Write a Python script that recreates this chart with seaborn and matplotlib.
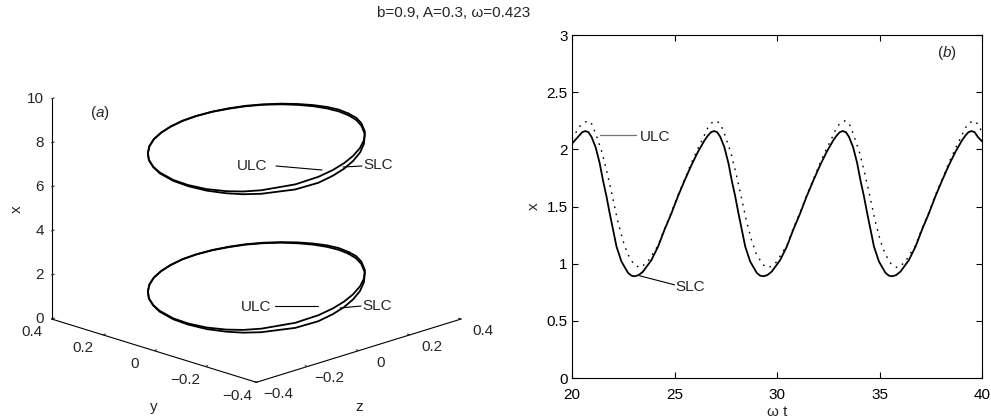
import numpy as np
import pandas as pd
import matplotlib
matplotlib.use("Agg")
import matplotlib.pyplot as plt
from matplotlib.lines import Line2D
import seaborn as sns

# ---------------- data ----------------
title = "b=0.9, A=0.3, \u03c9=0.423"

# panel (b): x versus omega*t
slc_t = [20.00, 20.20, 20.35, 20.50,
         20.65, 20.80, 20.95, 21.15, 21.35, 21.51, 21.68, 21.84, 22.00, 22.17, 22.41, 22.73, 22.90, 23.06,
         23.25, 23.46, 23.87, 24.20, 24.52, 24.85, 25.17, 25.50, 25.82, 26.15, 26.47, 26.63, 26.78,
         26.93, 27.08, 27.23, 27.43, 27.63, 27.79, 27.96, 28.12, 28.28, 28.45, 28.69, 29.01, 29.18, 29.34,
         29.53, 29.74, 30.15, 30.48, 30.80, 31.13, 31.45, 31.78, 32.10, 32.43, 32.75, 32.91, 33.06,
         33.21, 33.36, 33.51, 33.71, 33.91, 34.07, 34.24, 34.40, 34.56, 34.73, 34.97, 35.29, 35.46, 35.62,
         35.81, 36.02, 36.43, 36.76, 37.08, 37.41, 37.73, 38.06, 38.38, 38.71, 39.03, 39.19, 39.34,
         39.49, 39.64, 39.79, 40.00]
slc_x = [2.05, 2.09, 2.12, 2.15,
         2.16, 2.15, 2.11, 2.02, 1.88, 1.73, 1.59, 1.44, 1.30, 1.15, 1.02, 0.92, 0.895, 0.89,
         0.90, 0.93, 1.03, 1.15, 1.30, 1.44, 1.59, 1.73, 1.86, 1.98, 2.08, 2.12, 2.15,
         2.16, 2.15, 2.11, 2.02, 1.88, 1.73, 1.59, 1.44, 1.30, 1.15, 1.02, 0.92, 0.895, 0.89,
         0.90, 0.93, 1.03, 1.15, 1.30, 1.44, 1.59, 1.73, 1.86, 1.98, 2.08, 2.12, 2.15,
         2.16, 2.15, 2.11, 2.02, 1.88, 1.73, 1.59, 1.44, 1.30, 1.15, 1.02, 0.92, 0.895, 0.89,
         0.90, 0.93, 1.03, 1.15, 1.30, 1.44, 1.59, 1.73, 1.86, 1.98, 2.08, 2.12, 2.15,
         2.16, 2.15, 2.11, 2.07]

ulc_t = [20.00, 20.17, 20.37, 20.57,
         20.77, 20.97, 21.17, 21.47, 21.72, 21.97, 22.22, 22.47, 22.70, 23.03, 23.32, 23.67,
         23.92, 24.20, 24.52, 24.85, 25.17, 25.50, 25.82, 26.15, 26.40, 26.60, 26.80,
         27.05, 27.25, 27.45, 27.75, 28.00, 28.25, 28.50, 28.75, 28.98, 29.31, 29.60, 29.95,
         30.20, 30.48, 30.80, 31.13, 31.45, 31.78, 32.10, 32.43, 32.68, 32.88, 33.08,
         33.33, 33.53, 33.73, 34.03, 34.28, 34.53, 34.78, 35.03, 35.26, 35.59, 35.88, 36.23,
         36.48, 36.76, 37.08, 37.41, 37.73, 38.06, 38.38, 38.71, 38.96, 39.16, 39.36,
         39.61, 39.81, 40.00]
ulc_x = [2.09, 2.14, 2.20, 2.23,
         2.25, 2.22, 2.13, 1.97, 1.79, 1.59, 1.38, 1.21, 1.09, 0.99, 0.965, 1.01,
         1.08, 1.16, 1.31, 1.45, 1.60, 1.74, 1.88, 2.01, 2.10, 2.18, 2.23,
         2.25, 2.22, 2.13, 1.97, 1.79, 1.59, 1.38, 1.21, 1.09, 0.99, 0.965, 1.01,
         1.08, 1.16, 1.31, 1.45, 1.60, 1.74, 1.88, 2.01, 2.10, 2.18, 2.23,
         2.25, 2.22, 2.13, 1.97, 1.79, 1.59, 1.38, 1.21, 1.09, 0.99, 0.965, 1.01,
         1.08, 1.16, 1.31, 1.45, 1.60, 1.74, 1.88, 2.01, 2.10, 2.18, 2.23,
         2.25, 2.22, 2.15]

# panel (a): one period of the limit cycles in (x, y, z)
loop_y = [-0.068, -0.111, -0.151, -0.200, -0.240, -0.266, -0.286, -0.297, -0.300, -0.295,
          -0.274, -0.221, -0.185, -0.145, -0.092, -0.031, 0.026, 0.092, 0.135, 0.179,
          0.215, 0.245, 0.270, 0.288, 0.298, 0.300, 0.294, 0.280, 0.259, 0.232,
          0.199, 0.158, 0.115, 0.069, 0.022, -0.023, -0.068]
loop_z = [0.292, 0.279, 0.259, 0.224, 0.180, 0.139, 0.092, 0.045, -0.002, -0.053,
          -0.122, -0.202, -0.237, -0.263, -0.286, -0.298, -0.299, -0.286, -0.268, -0.241,
          -0.209, -0.173, -0.131, -0.084, -0.037, 0.011, 0.059, 0.108, 0.151, 0.190,
          0.225, 0.255, 0.277, 0.292, 0.299, 0.299, 0.292]
loop_slc_x = [2.16, 2.15, 2.11, 2.02, 1.88, 1.73, 1.59, 1.44, 1.30, 1.15,
              1.02, 0.92, 0.895, 0.89, 0.90, 0.93, 0.97, 1.03, 1.09, 1.15,
              1.22, 1.30, 1.37, 1.44, 1.51, 1.59, 1.66, 1.73, 1.79, 1.86,
              1.92, 1.98, 2.03, 2.08, 2.12, 2.15, 2.16]
loop_ulc_x = [2.24, 2.25, 2.22, 2.14, 2.04, 1.94, 1.82, 1.69, 1.56, 1.42,
              1.25, 1.08, 1.02, 0.985, 0.97, 0.98, 1.01, 1.07, 1.11, 1.16,
              1.24, 1.31, 1.38, 1.45, 1.52, 1.60, 1.67, 1.74, 1.81, 1.88,
              1.94, 2.01, 2.07, 2.13, 2.19, 2.23, 2.24]
loop_shift = 2 * np.pi   # upper copy of the cycles (x + 2*pi)

ticks3d_yz = [-0.4, -0.2, 0, 0.2, 0.4]
ticklabels3d_yz = ["\u22120.4", "\u22120.2", "0", "0.2", "0.4"]
ticks3d_x = [0, 2, 4, 6, 8, 10]
b_xticks = [20, 25, 30, 35, 40]
b_yticks = [0, 0.5, 1, 1.5, 2, 2.5, 3]
b_yticklabels = ["0", "0.5", "1", "1.5", "2", "2.5", "3"]

# ---------------- style ----------------
sns.set_theme(style="ticks")
plt.rcParams["font.family"] = ["Liberation Sans", "DejaVu Sans"]
plt.rcParams["mathtext.fontset"] = "custom"
plt.rcParams["mathtext.rm"] = "Liberation Sans"
plt.rcParams["mathtext.it"] = "Liberation Sans:italic"
plt.rcParams["axes.edgecolor"] = "black"
plt.rcParams["axes.linewidth"] = 0.8
FS = 11

W, H = 991, 419
fig = plt.figure(figsize=(W / 100, H / 100), dpi=100)
fig.patch.set_facecolor("white")


def fx(px):
    return px / W


def fy(py):
    return 1 - py / H


fig.text(fx(454), fy(13), title, ha="center", va="center", fontsize=FS)

# ---------------- panel (a): 3D ----------------
ax3 = fig.add_axes([-0.007, -0.012, 0.52, 1.0], projection="3d")
ax3.set_proj_type("ortho")
ax3.view_init(elev=18, azim=-135)
ax3.set_box_aspect((1, 1, 0.80), zoom=1.09)
ax3.set_facecolor("none")
for axis in (ax3.xaxis, ax3.yaxis, ax3.zaxis):
    axis.pane.set_visible(False)
    axis.line.set_color("black")
    axis.line.set_linewidth(0.8)
    axis._axinfo["tick"]["inward_factor"] = 0.0
    axis._axinfo["tick"]["outward_factor"] = 0.15
    axis._axinfo["tick"]["linewidth"] = {True: 0.8, False: 0.5}
    axis._axinfo["tick"]["color"] = "black"
ax3.grid(False)

# mpl axes: X <- z data, Y <- y data, Z <- x data
for base in (0.0, loop_shift):
    ax3.plot(loop_z, loop_y, np.asarray(loop_ulc_x) + base, color="black", lw=1.3)
    ax3.plot(loop_z, loop_y, np.asarray(loop_slc_x) + base, color="black", lw=1.3)

ax3.set_xlim(-0.4, 0.4)
ax3.set_ylim(-0.4, 0.4)
ax3.set_zlim(0, 10)
ax3.set_xticks(ticks3d_yz)
ax3.set_yticks(ticks3d_yz)
ax3.set_zticks(ticks3d_x)
for axis in (ax3.xaxis, ax3.yaxis, ax3.zaxis):
    axis.set_major_formatter(matplotlib.ticker.NullFormatter())
    axis.set_tick_params(label1On=False, label2On=False)
ax3.set_xlabel("")
ax3.set_ylabel("")
ax3.set_zlabel("")

# project 3D anchor points to figure coordinates so that labels are plain 2D texts
fig.canvas.draw()
M = ax3.M


def p3(X, Y, Z):
    v = M @ np.array([X, Y, Z, 1.0])
    d = ax3.transData.transform((v[0] / v[3], v[1] / v[3]))
    return fig.transFigure.inverted().transform(d)


for v, s in zip(ticks3d_yz, ticklabels3d_yz):
    fig.text(*p3(-0.476, v, -0.33), s, ha="center", va="center", fontsize=FS)   # y axis
    fig.text(*p3(v, -0.486, -0.23), s, ha="center", va="center", fontsize=FS)   # z axis
for v in ticks3d_x:
    fig.text(*p3(-0.4155, 0.4155, v), str(v), ha="right", va="center", fontsize=FS)
fig.text(*p3(-0.468, 0.468, 5), "x", ha="center", va="center", rotation=90, fontsize=FS)
fig.text(*p3(-0.4, 0.0, -2.57), "y", ha="center", va="center", fontsize=FS)
fig.text(*p3(0.0, -0.4, -2.57), "z", ha="center", va="center", fontsize=FS)

fig.text(fx(100), fy(113), "($a$)", ha="center", va="center", fontsize=FS)


def leader(x0, y0, x1, y1, color="black"):
    fig.add_artist(Line2D([fx(x0), fx(x1)], [fy(y0), fy(y1)], transform=fig.transFigure,
                          color=color, lw=0.8))


fig.text(fx(237), fy(166), "ULC", ha="left", va="center", fontsize=FS)
leader(276, 166, 322, 170)
fig.text(fx(363), fy(165), "SLC", ha="left", va="center", fontsize=FS)
leader(343, 167, 362, 166)
fig.text(fx(241), fy(307), "ULC", ha="left", va="center", fontsize=FS)
leader(275, 306, 318, 306)
fig.text(fx(362), fy(306), "SLC", ha="left", va="center", fontsize=FS)
leader(340, 308, 361, 306)

# ---------------- panel (b) ----------------
axb = fig.add_axes([fx(572), fy(378), fx(982) - fx(572), fy(35) - fy(378)])
df_s = pd.DataFrame({"wt": slc_t, "x": slc_x})
df_u = pd.DataFrame({"wt": ulc_t, "x": ulc_x})
sns.lineplot(data=df_u, x="wt", y="x", ax=axb, color="black", lw=1.0,
             linestyle=(0, (1.2, 4.0)), sort=False)
sns.lineplot(data=df_s, x="wt", y="x", ax=axb, color="black", lw=1.3, sort=False)
axb.set_xlim(20, 40)
axb.set_ylim(0, 3)
axb.set_xticks(b_xticks)
axb.set_yticks(b_yticks)
axb.set_yticklabels(b_yticklabels)
axb.tick_params(direction="in", top=True, right=True, length=4, width=0.8,
                labelsize=FS, colors="black", pad=3)
axb.tick_params(axis="x", pad=7)
for s in axb.spines.values():
    s.set_visible(True)
    s.set_linewidth(0.8)
    s.set_color("black")
axb.set_xlabel("\u03c9 t", fontsize=FS, labelpad=2)
axb.set_ylabel("x", fontsize=FS, labelpad=4)

axb.plot([21.35, 23.14], [2.127, 2.127], color="0.45", lw=0.9)
axb.text(23.3, 2.11, "ULC", ha="left", va="center", fontsize=FS)
axb.plot([23.3, 25.0], [0.894, 0.815], color="black", lw=0.8)
axb.text(25.06, 0.795, "SLC", ha="left", va="center", fontsize=FS)
axb.text(38.3, 2.84, "($b$)", ha="center", va="center", fontsize=FS)

fig.savefig("out.png", dpi=100, facecolor="white")
